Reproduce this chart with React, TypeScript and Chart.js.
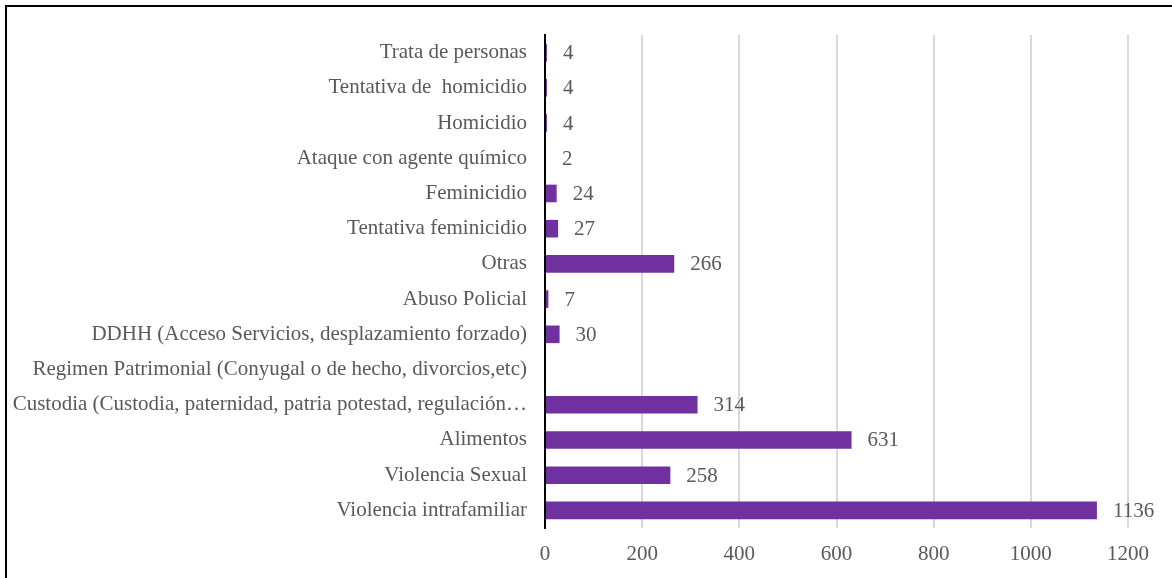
import React, { useEffect, useRef } from "react";
import { Chart, registerables } from "chart.js";

Chart.register(...registerables);

const categories = [
  "Trata de personas",
  "Tentativa de  homicidio",
  "Homicidio",
  "Ataque con agente químico",
  "Feminicidio",
  "Tentativa feminicidio",
  "Otras",
  "Abuso Policial",
  "DDHH (Acceso Servicios, desplazamiento forzado)",
  "Regimen Patrimonial (Conyugal o de hecho, divorcios,etc)",
  "Custodia (Custodia, paternidad, patria potestad, regulación…",
  "Alimentos",
  "Violencia Sexual",
  "Violencia intrafamiliar",
];

const values: (number | null)[] = [4, 4, 4, 2, 24, 27, 266, 7, 30, null, 314, 631, 258, 1136];

const xTicks = [0, 200, 400, 600, 800, 1000, 1200];

const FONT = "'Liberation Serif', 'Times New Roman', serif";

const valueLabels = {
  id: "valueLabels",
  afterDatasetsDraw(chart: any) {
    const ctx = chart.ctx;
    const meta = chart.getDatasetMeta(0);
    ctx.save();
    ctx.font = `21px ${FONT}`;
    ctx.fillStyle = "#595959";
    ctx.textAlign = "left";
    ctx.textBaseline = "middle";
    meta.data.forEach((bar: any, i: number) => {
      const v = values[i];
      if (v === null || v === undefined) return;
      ctx.fillText(String(v), bar.x + 16, bar.y + 1);
    });
    ctx.restore();
  },
};

export default function App() {
  const ref = useRef<HTMLCanvasElement>(null);

  useEffect(() => {
    if (!ref.current) return;
    const chart = new Chart(ref.current, {
      type: "bar",
      data: {
        labels: categories,
        datasets: [
          {
            data: values as any,
            backgroundColor: "#7030A0",
            borderWidth: 0,
            barPercentage: 0.5,
            categoryPercentage: 1,
          },
        ],
      },
      options: {
        indexAxis: "y",
        animation: false,
        responsive: false,
        maintainAspectRatio: false,
        layout: { padding: { top: 35, right: 44, left: 0, bottom: 0 } },
        plugins: {
          legend: { display: false },
          tooltip: { enabled: false },
          title: { display: false },
        },
        scales: {
          x: {
            type: "linear",
            min: 0,
            max: 1200,
            afterBuildTicks: (scale: any) => {
              scale.ticks = xTicks.map((v) => ({ value: v }));
            },
            afterFit: (scale: any) => {
              scale.height = 50;
            },
            grid: {
              color: (c: any) => (c.index === 0 ? "rgba(0,0,0,0)" : "#d9d9d9"),
              lineWidth: 2,
              drawTicks: false,
            },
            border: { display: false },
            ticks: {
              padding: 14,
              color: "#595959",
              font: { family: FONT, size: 21 },
              callback: (v: any) => String(v),
            },
          },
          y: {
            type: "category",
            afterFit: (scale: any) => {
              scale.width = 545;
            },
            grid: { display: false, drawTicks: false },
            border: { display: true, color: "#000000", width: 2 },
            ticks: {
              autoSkip: false,
              padding: 18,
              color: "#595959",
              font: { family: FONT, size: 21 },
            },
          },
        },
      },
      plugins: [valueLabels],
    });
    return () => chart.destroy();
  }, []);

  return (
    <div
      style={{
        position: "fixed",
        left: 0,
        top: 0,
        width: 1172,
        height: 578,
        background: "#ffffff",
        overflow: "hidden",
      }}
    >
      <div
        style={{
          position: "absolute",
          left: 5,
          top: 5,
          width: 1200,
          height: 600,
          borderLeft: "2px solid #000",
          borderTop: "2px solid #000",
        }}
      />
      <canvas
        ref={ref}
        width={1172}
        height={578}
        style={{ position: "absolute", left: 0, top: 0, width: 1172, height: 578 }}
      />
    </div>
  );
}
